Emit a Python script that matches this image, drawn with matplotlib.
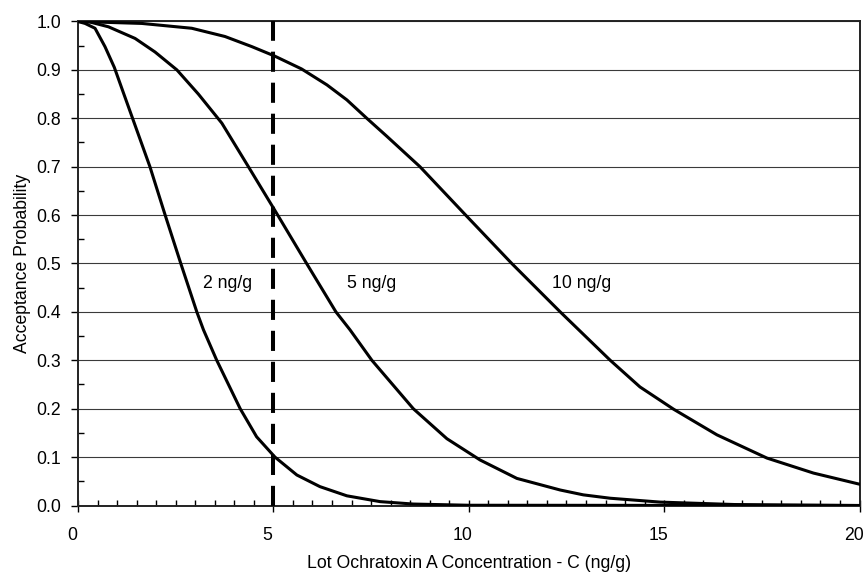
import matplotlib
matplotlib.use('Agg')
import matplotlib.pyplot as plt
import matplotlib.transforms as mtransforms
from matplotlib.ticker import MultipleLocator

plt.rcParams['font.family'] = ['Liberation Sans', 'DejaVu Sans']

# values
c_2 = [0, 0.18, 0.435, 0.69, 0.93, 1.16, 1.44, 1.84, 2.23, 2.63, 3.04, 3.21, 3.55, 4.15, 4.57, 5.04,
       5.6, 6.19, 6.88, 7.73, 8.58, 10.0, 20.0]
p_2 = [1.0, 0.996, 0.986, 0.948, 0.905, 0.853, 0.79, 0.7, 0.6, 0.5, 0.4, 0.363, 0.3, 0.2, 0.142, 0.1,
       0.063, 0.039, 0.02, 0.008, 0.003, 0.0005, 0.0]

c_5 = [0, 0.3, 0.78, 1.46, 1.97, 2.53, 3.08, 3.68, 4.36, 5.11, 5.85, 6.6, 6.96, 7.52, 8.58, 9.44,
       10.29, 11.23, 12.34, 12.93, 13.62, 14.9, 16.8, 20.0]
p_5 = [1.0, 0.999, 0.989, 0.965, 0.937, 0.9, 0.85, 0.79, 0.7, 0.6, 0.5, 0.4, 0.363, 0.3, 0.2, 0.138,
       0.094, 0.056, 0.032, 0.022, 0.015, 0.007, 0.002, 0.0]

c_10 = [0, 1.63, 2.91, 3.76, 4.45, 5.02, 5.72, 6.37, 6.88, 7.39, 7.9, 8.75, 9.92, 11.1, 12.34, 13.62,
        14.38, 15.24, 16.35, 17.63, 18.82, 20.0]
p_10 = [1.0, 0.996, 0.986, 0.969, 0.948, 0.929, 0.902, 0.869, 0.838, 0.8, 0.763, 0.7, 0.6, 0.5, 0.4, 0.3,
        0.245, 0.199, 0.146, 0.098, 0.067, 0.044]

curve_labels = ['2 ng/g', '5 ng/g', '10 ng/g']
label_x = [3.83, 7.52, 12.89]
label_y = [0.459, 0.459, 0.459]
limit = 5

fs = 12.7

fig = plt.figure(figsize=(8.65, 5.73), dpi=100)
ax = fig.add_axes([0.0902, 0.1178, 0.9035, 0.8447])

for c, p in [(c_2, p_2), (c_5, p_5), (c_10, p_10)]:
    ax.plot(c, p, color='black', lw=2.2, solid_joinstyle='round', zorder=3)

ax.axvline(limit, color='black', lw=2.9, dashes=(5, 2.7), zorder=4)

for t, x, y in zip(curve_labels, label_x, label_y):
    ax.text(x, y, t, ha='center', va='center', fontsize=fs)

ax.set_xlim(0, 20)
ax.set_ylim(0, 1.0)
ax.xaxis.set_major_locator(MultipleLocator(5))
ax.xaxis.set_minor_locator(MultipleLocator(0.5))
ax.yaxis.set_major_locator(MultipleLocator(0.1))
ax.yaxis.set_minor_locator(MultipleLocator(0.05))
ax.yaxis.set_major_formatter(plt.FormatStrFormatter('%.1f'))
ax.grid(axis='y', which='major', color='#3a3a3a', lw=0.8)
ax.tick_params(axis='x', which='major', direction='inout', length=9, width=1, labelsize=fs, pad=11)
ax.tick_params(axis='x', which='minor', direction='in', length=4, width=1)
ax.tick_params(axis='y', which='major', direction='out', length=5, width=1, labelsize=fs, pad=7)
ax.tick_params(axis='y', which='minor', direction='in', length=4, width=1)
for s in ax.spines.values():
    s.set_linewidth(1.4)
    s.set_color('#222222')

# tick labels sit a little left of their ticks in the original
shift = mtransforms.ScaledTranslation(-6 / 100, 0, fig.dpi_scale_trans)
for lab in ax.get_xticklabels():
    lab.set_transform(lab.get_transform() + shift)

ax.set_xlabel('Lot Ochratoxin A Concentration - C (ng/g)', fontsize=fs, labelpad=8)
ax.set_ylabel('Acceptance Probability', fontsize=fs, labelpad=4)

fig.savefig('out.png', dpi=100)
